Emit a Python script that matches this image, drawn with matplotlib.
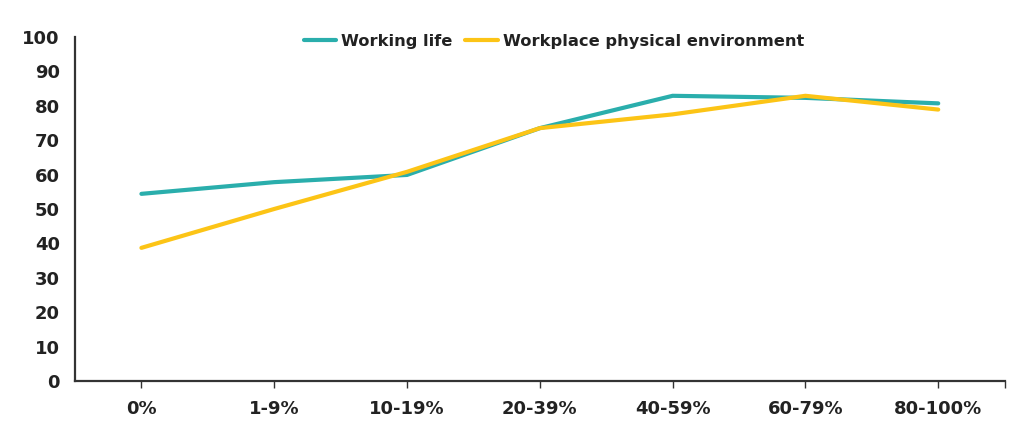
import matplotlib.pyplot as plt
import numpy as np

# categories and values
categories = ['0%', '1-9%', '10-19%', '20-39%', '40-59%', '60-79%', '80-100%']
working_life = [54.4, 57.8, 59.9, 73.5, 82.9, 82.3, 80.7]
physical_env = [38.7, 50.0, 60.8, 73.5, 77.5, 82.9, 78.9]
yticks = [0, 10, 20, 30, 40, 50, 60, 70, 80, 90, 100]

plt.rcParams['font.family'] = ['DejaVu Sans']

fig = plt.figure(figsize=(10.22, 4.30), dpi=100)
ax = fig.add_axes([0.0734, 0.114, 0.9096, 0.800])

x = np.arange(len(categories))
ax.plot(x, working_life, color='#2aaeac', lw=3.0, solid_capstyle='round', label='Working life')
ax.plot(x, physical_env, color='#fcc416', lw=3.0, solid_capstyle='round', label='Workplace physical environment')

ax.set_xlim(-0.5, len(categories) - 0.5)
ax.set_ylim(0, 100)
ax.set_xticks(x)
ax.set_xticklabels(categories)
ax.set_xticks([len(categories) - 0.5], minor=True)
ax.set_yticks(yticks)

for s in ['top', 'right']:
    ax.spines[s].set_visible(False)
for s in ['left', 'bottom']:
    ax.spines[s].set_color('#333333')
    ax.spines[s].set_linewidth(1.6)

ax.tick_params(axis='y', length=0, pad=11, labelsize=13, labelcolor='#222222')
ax.tick_params(axis='x', which='both', length=5, width=1, color='#333333',
               pad=9, labelsize=13, labelcolor='#222222')
for t in ax.get_xticklabels() + ax.get_yticklabels():
    t.set_fontweight('bold')

leg = ax.legend(loc='center', bbox_to_anchor=(0.515, 0.988), ncol=2, frameon=False,
                fontsize=11.7, handlelength=2.0, handletextpad=0.3, columnspacing=0.8,
                borderpad=0)
for t in leg.get_texts():
    t.set_fontweight('bold')
    t.set_color('#222222')

fig.savefig('out.png', dpi=100)
